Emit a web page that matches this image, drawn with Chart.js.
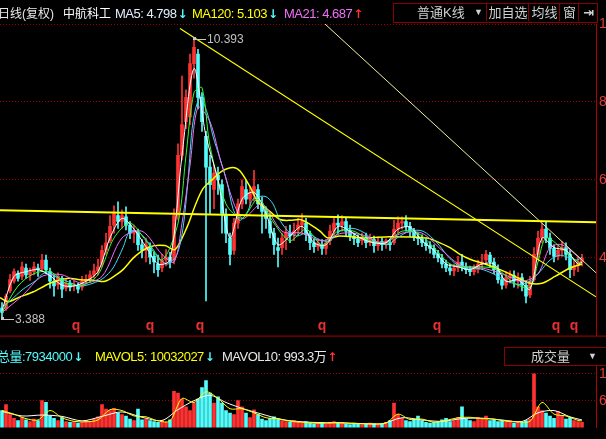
<!DOCTYPE html>
<html><head><meta charset="utf-8">
<script src="https://cdn.jsdelivr.net/npm/chart.js@4.4.1/dist/chart.umd.min.js"></script>
<style>
html,body{margin:0;padding:0;background:#000;width:606px;height:439px;overflow:hidden;}
#wrap{position:relative;width:606px;height:439px;overflow:hidden;background:#000;font-family:"Liberation Sans","Noto Sans CJK SC",sans-serif;}
canvas{position:absolute;left:0;}
#main{top:0;}
#vol{top:347px;}
.t{position:absolute;white-space:nowrap;font-size:13px;line-height:14px;letter-spacing:-0.5px;}
.c{font-size:12px;letter-spacing:0;}
.a{font-family:"DejaVu Sans";font-weight:bold;font-size:12px;margin-left:1px;letter-spacing:0;}
.box{position:absolute;border:1px solid #8c0000;box-sizing:border-box;background:#000;}
.cell{position:absolute;top:0;height:17px;line-height:17px;color:#d0d0d0;font-size:13px;text-align:center;white-space:nowrap;}
</style></head>
<body><div id="wrap">
<canvas id="main" width="640" height="347"></canvas>
<canvas id="vol" width="640" height="92"></canvas>

<div class="t c" style="left:-2px;top:7px;color:#e8e8e8">日线(复权)</div>
<div class="t c" style="left:63px;top:7px;color:#ffffff">中航科工</div>
<div class="t" style="left:115px;top:7px;color:#e4eeff">MA5: 4.798<span class="a" style="color:#54fcfc">↓</span></div>
<div class="t" style="left:192px;top:7px;color:#ffff00">MA120: 5.103<span class="a" style="color:#54fcfc">↓</span></div>
<div class="t" style="left:284px;top:7px;color:#f070f8">MA21: 4.687<span class="a" style="color:#ff3232">↑</span></div>

<div class="box" style="left:393px;top:3px;width:205px;height:20px;">
  <div class="cell" style="left:0;width:92px;text-align:left;padding-left:23px;box-sizing:border-box">普通K线<span style="position:absolute;left:80px;font-size:9px">▼</span></div>
  <div class="cell" style="left:92px;width:42px;border-left:1px solid #8c0000">加自选</div>
  <div class="cell" style="left:134px;width:31px;border-left:1px solid #8c0000">均线</div>
  <div class="cell" style="left:165px;width:19px;border-left:1px solid #8c0000">窗</div>
  <div class="cell" style="left:184px;width:19px;border-left:1px solid #8c0000;font-family:'DejaVu Sans';font-weight:bold">⇥</div>
</div>

<div class="t" style="left:-3px;top:350px;color:#54fcfc">总量:7934000<span class="a">↓</span></div>
<div class="t" style="left:95px;top:350px;color:#ffff00">MAVOL5: 10032027<span class="a" style="color:#54fcfc">↓</span></div>
<div class="t" style="left:222px;top:350px;color:#e8e8e8">MAVOL10: 993.3万<span class="a" style="color:#ff3232">↑</span></div>
<div class="box" style="left:504px;top:347px;width:104px;height:19px;">
  <div class="cell" style="left:0;width:100px;text-align:left;padding-left:26px;box-sizing:border-box">成交量<span style="position:absolute;left:83px;font-size:9px">▼</span></div>
</div>
</div>
<script>
// ---- price data (one entry per candle) ----
const openP = [3.63,3.63,4.07,4.31,4.50,4.43,4.64,4.47,4.55,4.64,
4.62,4.84,4.55,4.31,4.23,4.38,4.14,4.26,4.19,4.21,
4.16,4.31,4.35,4.47,4.57,4.74,5.08,5.32,5.71,5.95,
5.80,5.92,5.71,5.51,5.51,5.22,5.08,5.17,4.93,4.74,
4.64,4.84,4.91,4.84,5.95,7.45,8.29,8.41,9.74,9.98,
8.90,7.93,7.16,6.60,6.96,6.72,5.95,5.39,5.08,5.76,
6.24,6.60,6.36,6.48,6.60,6.24,6.05,5.80,5.51,5.15,
5.15,5.39,5.51,5.47,5.59,5.71,5.76,5.47,5.27,5.17,
5.22,5.13,5.32,5.56,5.76,5.71,5.80,5.56,5.44,5.37,
5.32,5.42,5.27,5.35,5.20,5.30,5.22,5.27,5.27,5.61,
5.76,5.80,5.68,5.56,5.42,5.37,5.27,5.20,5.13,4.98,
4.89,4.74,4.64,4.57,4.64,4.79,4.67,4.60,4.55,4.60,
4.74,4.84,4.96,4.79,4.60,4.35,4.21,4.40,4.45,4.31,
4.40,4.21,3.97,4.35,4.98,5.39,5.61,5.39,5.13,4.93,
5.08,5.15,4.98,4.60,4.69,4.79];
const highP = [3.78,3.99,4.48,4.62,4.57,4.79,4.74,4.64,4.79,4.74,
4.98,4.96,4.64,4.47,4.52,4.43,4.35,4.33,4.31,4.26,
4.43,4.47,4.57,4.74,4.86,5.20,5.51,5.95,6.19,6.29,
6.09,6.17,5.80,5.71,5.61,5.35,5.39,5.27,5.03,4.96,
4.98,5.10,5.03,6.12,7.74,9.43,9.09,9.98,10.393,10.10,
9.02,8.05,7.45,7.21,7.16,6.84,6.12,5.51,5.88,6.36,
6.84,6.82,6.67,7.08,6.72,6.41,6.17,6.00,5.63,5.39,
5.51,5.68,5.71,5.76,5.88,6.00,5.88,5.56,5.37,5.37,
5.35,5.35,5.71,5.90,5.97,5.95,5.90,5.71,5.51,5.47,
5.51,5.51,5.49,5.44,5.42,5.39,5.37,5.35,5.83,5.92,
5.92,5.95,5.78,5.63,5.51,5.47,5.37,5.30,5.22,5.08,
4.98,4.84,4.74,4.74,4.93,4.98,4.77,4.69,4.72,4.84,
4.98,5.08,5.03,4.89,4.72,4.47,4.55,4.57,4.57,4.52,
4.50,4.31,4.43,5.15,5.56,5.76,5.78,5.51,5.22,5.22,
5.30,5.27,5.08,4.84,4.91,4.98];
const lowP = [3.388,3.58,4.02,4.26,4.31,4.35,4.38,4.33,4.47,4.43,
4.55,4.50,4.14,3.94,4.11,3.90,4.07,4.07,4.07,4.02,
4.09,4.23,4.28,4.40,4.47,4.67,4.98,5.27,5.51,5.63,
5.63,5.59,5.37,5.27,5.08,4.89,4.79,4.74,4.52,4.43,
4.55,4.69,4.64,4.74,5.85,7.33,8.12,8.22,9.38,8.61,
8.05,3.82,6.00,6.12,6.48,5.51,5.27,4.72,4.98,5.63,
6.12,6.24,6.19,6.31,6.12,5.51,5.63,5.39,4.98,4.67,
4.98,5.10,5.27,5.32,5.44,5.51,5.32,5.10,5.03,5.08,
4.98,4.98,5.22,5.44,5.51,5.56,5.44,5.32,5.22,5.17,
5.22,5.15,5.20,5.03,5.08,5.08,5.13,5.08,5.22,5.51,
5.61,5.56,5.42,5.32,5.22,5.17,5.08,5.01,4.89,4.79,
4.64,4.55,4.47,4.45,4.55,4.57,4.50,4.45,4.47,4.52,
4.62,4.74,4.67,4.50,4.26,4.11,4.14,4.26,4.16,4.14,
4.07,3.77,3.90,4.31,4.84,5.27,5.27,4.98,4.79,4.84,
4.93,4.84,4.40,4.45,4.55,4.69];
const closeP = [3.53,3.94,4.35,4.55,4.38,4.67,4.47,4.55,4.67,4.60,
4.84,4.60,4.31,4.19,4.43,4.11,4.26,4.16,4.21,4.11,
4.31,4.35,4.47,4.57,4.67,5.08,5.27,5.68,6.00,5.80,
5.95,5.71,5.51,5.56,5.22,5.08,5.22,4.91,4.79,4.60,
4.84,4.91,4.79,5.95,7.45,8.22,8.90,9.74,10.15,8.90,
8.29,7.16,6.72,7.01,6.84,6.00,5.51,4.98,5.76,6.24,
6.67,6.36,6.53,6.67,6.24,6.05,5.88,5.51,5.22,5.08,
5.39,5.51,5.44,5.56,5.71,5.80,5.47,5.27,5.17,5.27,
5.13,5.27,5.56,5.76,5.71,5.80,5.56,5.44,5.37,5.27,
5.42,5.27,5.37,5.20,5.30,5.22,5.32,5.22,5.61,5.76,
5.80,5.68,5.56,5.42,5.37,5.27,5.20,5.13,4.98,4.89,
4.74,4.64,4.57,4.64,4.79,4.69,4.60,4.55,4.60,4.74,
4.79,4.98,4.79,4.60,4.35,4.21,4.40,4.45,4.31,4.40,
4.21,3.94,4.31,4.98,5.39,5.61,5.39,5.13,4.93,5.08,
5.15,4.98,4.60,4.69,4.79,4.89];
// volume, 万
const volume = [3770,5140,2910,2060,1540,2230,1710,1370,1890,1540,
6000,5660,2570,2060,1540,2230,1370,1200,1370,1030,
1200,1540,1370,1890,2400,5140,4110,3770,4280,3260,
2910,2570,1890,1540,4110,1710,1890,1540,1370,1200,
1540,1200,1710,8060,7710,6340,4630,3770,5480,6340,
8910,10460,7710,5480,6860,5480,3770,3260,2910,6000,
4630,3260,2230,3940,2910,1890,1540,2060,2400,1890,
1540,1370,1200,1540,1200,1030,1370,1030,860,1030,
1200,860,1200,1370,1030,1200,860,690,1030,860,
690,860,1030,860,690,860,1200,1540,5480,2910,
2060,1540,1370,1890,2570,1540,1200,1030,1200,1370,
1710,2060,1370,1540,2230,4630,1890,1540,1370,2230,
1890,2570,1540,1710,1370,1540,1200,1540,1030,1370,
1200,1540,1890,12000,4630,3770,3260,2570,2060,3600,
2570,1890,2230,1540,1370,1200];

// ---- moving-average lines: [candle index, value] ----
const ma5Line = [[0,3.58],[3,4.43],[6,4.55],[9,4.60],[12,4.45],[15,4.21],[18,4.19],[21,4.31],[24,4.55],[27,5.39],[30,5.88],[33,5.61],[36,5.17],[39,4.74],[42,4.84],[45,7.45],[48,9.62],[51,7.93],[54,6.84],[57,5.39],[60,6.36],[63,6.53],[66,6.00],[69,5.22],[72,5.44],[75,5.68],[78,5.27],[81,5.22],[84,5.68],[87,5.56],[90,5.37],[93,5.27],[96,5.27],[99,5.61],[102,5.66],[105,5.32],[108,5.08],[111,4.74],[114,4.67],[117,4.60],[120,4.74],[123,4.74],[126,4.31],[129,4.35],[132,4.11],[135,5.39],[138,5.15],[141,5.08],[144,4.74],[145,4.79]];
const ma10Line = [[0,3.53],[4,4.19],[8,4.50],[12,4.55],[16,4.26],[20,4.21],[24,4.47],[28,5.39],[32,5.76],[36,5.32],[40,4.84],[44,5.76],[46,7.45],[48,9.02],[50,9.14],[52,7.69],[56,6.24],[60,5.88],[64,6.36],[68,5.76],[72,5.32],[76,5.61],[80,5.22],[84,5.56],[88,5.56],[92,5.32],[96,5.27],[100,5.56],[104,5.51],[108,5.15],[112,4.74],[116,4.67],[120,4.67],[124,4.60],[128,4.26],[132,4.16],[134,4.79],[136,5.39],[140,5.13],[144,4.79],[145,4.79]];
const ma21Line = [[0,3.53],[5,3.94],[10,4.43],[15,4.47],[20,4.26],[25,4.43],[30,5.39],[35,5.56],[40,4.98],[43,4.79],[45,5.76],[47,7.20],[49,8.65],[52,8.29],[55,7.20],[60,5.88],[65,6.24],[70,5.56],[75,5.51],[80,5.32],[85,5.51],[90,5.47],[95,5.27],[100,5.51],[105,5.51],[110,5.08],[115,4.69],[120,4.64],[125,4.50],[130,4.31],[134,4.50],[137,5.15],[140,5.22],[145,4.84]];
const ma60Line = [[-0.5,3.63],[2,3.82],[5.25,4.11],[8.25,4.31],[10.75,4.52],[13.25,4.43],[16.25,4.31],[19.5,4.19],[22.75,4.26],[25.25,4.38],[27.75,4.64],[30.25,5.15],[32,5.56],[34.5,5.51],[37,5.22],[39.5,4.86],[41.5,4.74],[43.75,4.98],[45.25,5.63],[46.5,6.84],[47.75,8.29],[49.5,8.90],[51.25,8.53],[52.75,7.93],[54.5,7.37],[56.25,6.79],[57.75,6.12],[59.5,5.83],[61.5,6.07],[62.75,6.36],[65.75,6.43],[67.75,6.24],[69.5,5.83],[72,5.51],[73.75,5.44],[76.25,5.51],[79.5,5.34],[82,5.32],[84.5,5.56],[87.75,5.63],[90.75,5.51],[92.75,5.34],[96.25,5.22],[98.75,5.39],[102,5.56],[105.25,5.56],[108.75,5.27],[111.25,4.96],[113.75,4.72],[116.25,4.64],[119.5,4.62],[122.75,4.50],[126.25,4.31],[129.5,4.23],[132,4.31],[134.5,4.55],[137,4.84],[139.5,4.96],[142,4.89],[143.75,4.84],[145,4.91]];
const ma120Line = [[-0.5,3.90],[1.5,3.80],[4.5,3.92],[7.75,4.04],[12,4.26],[16.25,4.38],[19.5,4.35],[23.25,4.33],[25.75,4.31],[28.25,4.45],[30.25,4.60],[33.25,4.93],[37,5.17],[40.75,5.20],[43.25,5.10],[46.25,5.66],[48.25,6.19],[50.25,6.62],[52.5,6.84],[55,7.06],[57.75,7.15],[59.5,7.06],[62,6.67],[64,6.29],[67,6.05],[69.5,5.85],[72,5.83],[74.5,5.85],[77,5.73],[79.5,5.56],[81.5,5.39],[84.5,5.44],[90.75,5.39],[97,5.42],[106.25,5.39],[108.25,5.32],[112,5.15],[114.5,4.98],[117,4.86],[120.75,4.74],[124.5,4.60],[128.25,4.43],[132,4.26],[135,4.26],[138.25,4.43],[142,4.64],[145,4.74]];
// ---- trend lines: [candle index, price] ----
const trendFlat = [[-0.5,6.08],[148.5,5.78]];
const trendPeak = [[44.5,10.62],[148.5,3.92]];
const trendUpper = [[80.75,10.731],[148.5,4.52]];
// ---- volume MA lines ----
const mavol5Line = [[0,3800],[3,3000],[6,2000],[9,1700],[12,3800],[15,2200],[18,1400],[21,1300],[24,1700],[27,4000],[30,3800],[33,2600],[36,2400],[39,1500],[42,1500],[45,6500],[48,5600],[51,8000],[54,6500],[57,4200],[60,4200],[63,3300],[66,2200],[69,2000],[72,1400],[75,1200],[78,1000],[81,1000],[84,1150],[87,950],[90,850],[93,850],[96,1000],[99,3000],[102,1800],[105,1900],[108,1200],[111,1600],[114,2200],[117,2300],[120,2000],[123,1900],[126,1400],[129,1300],[132,1400],[135,5600],[138,3000],[141,2600],[144,1600],[145,1500]];
const mavol10Line = [[0,3600],[5,2600],[10,2800],[15,2500],[20,1500],[25,2500],[30,3500],[35,2300],[40,1600],[44,4000],[48,6000],[52,7200],[56,5600],[60,4300],[65,3000],[70,1800],[75,1300],[80,1100],[85,1050],[90,900],[95,850],[100,2200],[105,1700],[110,1400],[115,2000],[120,2100],[125,1700],[130,1350],[134,3300],[138,3800],[142,2400],[145,1700]];
// ---- axis ticks & markers ----
const priceTicks = [4.898, 6.842, 8.787, 10.731];
const volTicks = [6000, 12000];
const qMarks = [18.5, 37, 49.5, 80, 108.75, 138.5, 143];

const UP = '#ff3232', DOWN = '#54fcfc', GRID = '#a00000', AXIS = '#b00000';
const N = closeP.length;
const up = i => closeP[i] >= openP[i];
const pts = a => a.map(([x, y]) => ({x, y}));
const idx = Array.from({length: N}, (_, i) => i);

function lineDS(data, color, width, order) {
  return {type: 'line', data: pts(data), borderColor: color, borderWidth: width,
    pointRadius: 0, tension: 0.3, fill: false, order: order};
}

const annot = {
  id: 'annot',
  afterDatasetsDraw(chart) {
    const {ctx, chartArea, scales: {x, y}} = chart;
    ctx.save();
    ctx.fillStyle = '#e83030';
    ctx.font = 'bold 14px "Liberation Sans"';
    ctx.textAlign = 'center';
    ctx.textBaseline = 'alphabetic';
    qMarks.forEach(i => ctx.fillText('q', x.getPixelForValue(i), chartArea.bottom - 6));
    let hi = 0, lo = 0;
    for (let i = 1; i < N; i++) { if (highP[i] > highP[hi]) hi = i; if (lowP[i] < lowP[lo]) lo = i; }
    ctx.font = '12px "Liberation Sans"';
    ctx.textAlign = 'left';
    ctx.textBaseline = 'middle';
    const mark = (i, v, dy) => {
      const px = Math.round(x.getPixelForValue(i)), py = Math.round(y.getPixelForValue(v));
      ctx.fillStyle = '#c8c8c8';
      ctx.fillRect(px - 1, py - 1, 3, 3);
      ctx.strokeStyle = '#c8c8c8'; ctx.lineWidth = 1;
      ctx.beginPath(); ctx.moveTo(px + 1, py + 0.5 + dy); ctx.lineTo(px + 12, py + 0.5 + dy); ctx.stroke();
      ctx.fillStyle = '#c0c0c0';
      ctx.fillText(v.toFixed(3), px + 13, py + 1 + dy);
    };
    mark(hi, highP[hi], 1);
    mark(lo, lowP[lo], 1);
    ctx.strokeStyle = AXIS; ctx.lineWidth = 1;
    ctx.beginPath(); ctx.moveTo(0, chartArea.bottom + 0.5); ctx.lineTo(chart.width, chartArea.bottom + 0.5); ctx.stroke();
    ctx.restore();
  }
};

Chart.defaults.font.family = '"Liberation Sans", Arial, sans-serif';

new Chart(document.getElementById('main'), {
  type: 'bar',
  data: {datasets: [
    {type: 'line', data: pts(trendFlat), borderColor: '#ffff00', borderWidth: 2, pointRadius: 0, order: 0},
    {type: 'line', data: pts(trendPeak), borderColor: '#ffff00', borderWidth: 1.2, pointRadius: 0, order: 0},
    {type: 'line', data: pts(trendUpper), borderColor: '#f0f0a0', borderWidth: 1, pointRadius: 0, order: 0},
    lineDS(ma5Line, '#ffffff', 1, 1),
    lineDS(ma10Line, '#30ff30', 1, 2),
    lineDS(ma21Line, '#f070f8', 1, 3),
    lineDS(ma60Line, '#40d8f0', 1, 4),
    lineDS(ma120Line, '#ffff00', 1.5, 4),
    {type: 'bar', data: idx.map(i => ({x: i, y: [openP[i], closeP[i]]})),
      backgroundColor: idx.map(i => up(i) ? UP : DOWN), barThickness: 3, minBarLength: 1, grouped: false, order: 8},
    {type: 'bar', data: idx.map(i => ({x: i, y: [lowP[i], highP[i]]})),
      backgroundColor: idx.map(i => up(i) ? UP : DOWN), barThickness: 1, grouped: false, order: 9}
  ]},
  options: {
    responsive: false, animation: false, events: [],
    layout: {padding: {top: 24, bottom: 1, left: 0, right: 0}},
    plugins: {legend: {display: false}, tooltip: {enabled: false}},
    scales: {
      x: {type: 'linear', min: -0.5, max: 148.5, display: false, offset: false},
      y: {position: 'right', min: 2.953, max: 10.731,
        afterFit(s) { s.width = 44; },
        afterBuildTicks(s) { s.ticks = priceTicks.map(v => ({value: v})); },
        grid: {color: GRID, lineWidth: 1, drawTicks: false},
        border: {display: true, color: AXIS, width: 1, dash: [1, 2]},
        ticks: {color: '#e03c3c', font: {size: 14}, padding: 3, callback: v => Number(v).toFixed(2)}}
    }
  },
  plugins: [annot]
});

new Chart(document.getElementById('vol'), {
  type: 'bar',
  data: {datasets: [
    lineDS(mavol10Line, '#ffffff', 1, 1),
    lineDS(mavol5Line, '#ffff00', 1, 0),
    {type: 'bar', data: idx.map(i => ({x: i, y: volume[i]})),
      backgroundColor: idx.map(i => up(i) ? UP : DOWN), barThickness: 3, grouped: false, order: 5}
  ]},
  options: {
    responsive: false, animation: false, events: [],
    layout: {padding: {top: 0, bottom: 2, left: 0, right: 0}},
    plugins: {legend: {display: false}, tooltip: {enabled: false}},
    scales: {
      x: {type: 'linear', min: -0.5, max: 148.5, display: false, offset: false},
      y: {position: 'right', min: 0, max: 15429,
        afterFit(s) { s.width = 44; },
        afterBuildTicks(s) { s.ticks = volTicks.map(v => ({value: v})); },
        grid: {color: GRID, lineWidth: 1, drawTicks: false},
        border: {display: true, color: AXIS, width: 1, dash: [1, 2]},
        ticks: {color: '#e03c3c', font: {size: 14}, padding: 3}}
    }
  }
});
</script>
</body></html>
